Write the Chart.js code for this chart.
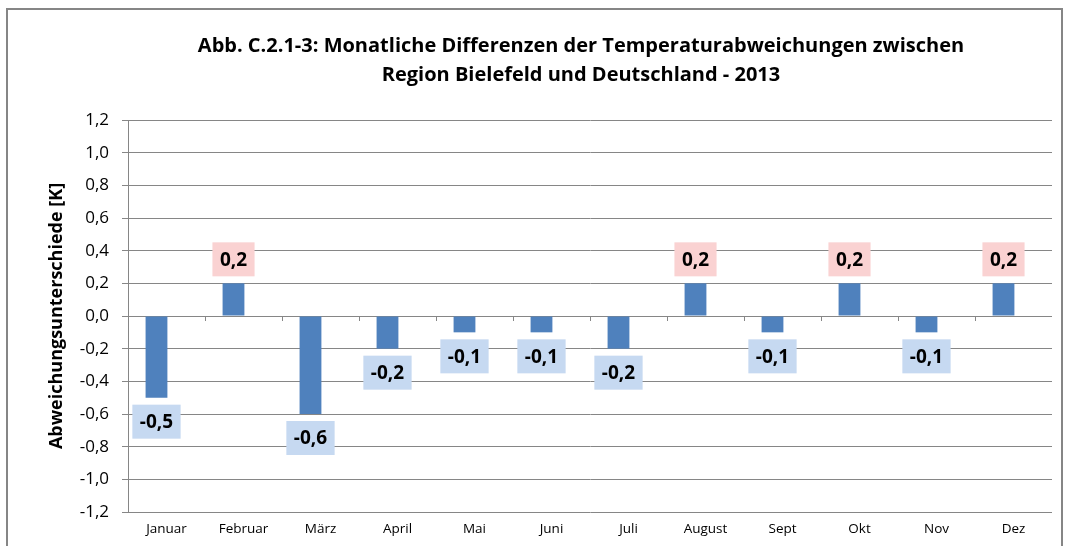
<!DOCTYPE html>
<html>
<head>
<meta charset="utf-8">
<script src="https://cdn.jsdelivr.net/npm/chart.js@4"></script>
<style>
  html, body { margin: 0; padding: 0; background: #fff; }
  #wrap { position: relative; width: 1068px; height: 546px; overflow: hidden; }
  #frame {
    position: absolute; left: 6px; top: 8px; width: 1057px; height: 560px;
    border: 2px solid #868686; box-sizing: border-box;
  }
  canvas { position: absolute; left: 0; top: 0; }
</style>
</head>
<body>
<div id="wrap">
  <div id="frame"></div>
  <canvas id="chart" width="1068" height="546"></canvas>
</div>
<script>
const months = ['Januar', 'Februar', 'März', 'April', 'Mai', 'Juni', 'Juli', 'August', 'Sept', 'Okt', 'Nov', 'Dez'];
const differences = [-0.5, 0.2, -0.6, -0.2, -0.1, -0.1, -0.2, 0.2, -0.1, 0.2, -0.1, 0.2];
// the original workbook has a second, empty series that shifts the bars left
const emptySeries = [];
const titleLines = [
  'Abb. C.2.1-3: Monatliche Differenzen der Temperaturabweichungen zwischen',
  'Region Bielefeld und Deutschland - 2013'
];
const yAxisTitle = 'Abweichungsunterschiede [K]';

const FONT = '"Open Sans", Lato, sans-serif';

function formatDe(value) {
  return value.toFixed(1).replace('.', ',').replace('-0,0', '0,0');
}

// title, small ticks on the zero line and the value boxes
const extras = {
  id: 'extras',
  afterDraw(chart) {
    const { ctx, chartArea, scales } = chart;
    const y = scales.y;

    ctx.save();
    ctx.fillStyle = '#000';
    ctx.font = 'bold 20px ' + FONT;
    ctx.textAlign = 'center';
    ctx.textBaseline = 'middle';
    ctx.fillText(titleLines[0], 581, 46);
    ctx.fillText(titleLines[1], 581, 75);

    const zeroY = y.getPixelForValue(0);
    const step = (chartArea.right - chartArea.left) / months.length;
    ctx.strokeStyle = '#868686';
    ctx.lineWidth = 1;
    for (let i = 1; i < months.length; i++) {
      const px = Math.round(chartArea.left + step * i) + 0.5;
      ctx.beginPath();
      ctx.moveTo(px, zeroY);
      ctx.lineTo(px, zeroY + 5);
      ctx.stroke();
    }

    const meta = chart.getDatasetMeta(0);
    ctx.font = 'bold 19px ' + FONT;
    meta.data.forEach((bar, i) => {
      const value = differences[i];
      const text = formatDe(value);
      const w = ctx.measureText(text).width + 15;
      const h = 34;
      const endY = y.getPixelForValue(value);
      const top = value < 0 ? endY + 7 : endY - 7 - h;
      ctx.fillStyle = value < 0 ? '#c6d9f1' : '#fad2d2';
      ctx.fillRect(bar.x - w / 2, top, w, h);
      ctx.fillStyle = '#000';
      ctx.fillText(text, bar.x, top + h / 2 + 1);
    });
    ctx.restore();
  }
};

new Chart(document.getElementById('chart'), {
  type: 'bar',
  data: {
    labels: months,
    datasets: [{
      data: differences,
      backgroundColor: '#4f81bd',
      borderWidth: 0,
      categoryPercentage: 0.52,
      barPercentage: 1.09,
    }, {
      data: emptySeries,
      backgroundColor: '#c0504d',
      borderWidth: 0,
      categoryPercentage: 0.52,
      barPercentage: 1.09,
    }],
  },
  options: {
    responsive: false,
    animation: false,
    layout: { padding: { top: 120, left: 8, right: 16, bottom: 0 } },
    plugins: {
      legend: { display: false },
      tooltip: { enabled: false },
      title: { display: false },
    },
    scales: {
      x: {
        grid: { display: false, drawTicks: false, tickLength: 0 },
        border: { display: false },
        ticks: { color: '#000', font: { family: FONT, size: 13.5 }, padding: 9 },
        afterFit(scale) { scale.height = 34; },
      },
      y: {
        min: -1.2,
        max: 1.2,
        ticks: {
          stepSize: 0.2,
          color: '#000',
          font: { family: FONT, size: 17 },
          padding: 13,
          callback: (v) => formatDe(v),
        },
        grid: { color: '#868686', lineWidth: 1, tickLength: 6 },
        border: { color: '#868686', width: 1 },
        title: {
          display: true,
          text: yAxisTitle,
          color: '#000',
          font: { family: FONT, size: 18, weight: 'bold' },
          padding: { top: 38, bottom: 0 },
        },
        afterFit(scale) { scale.width = 120; },
      },
    },
  },
  plugins: [extras],
});
</script>
</body>
</html>
